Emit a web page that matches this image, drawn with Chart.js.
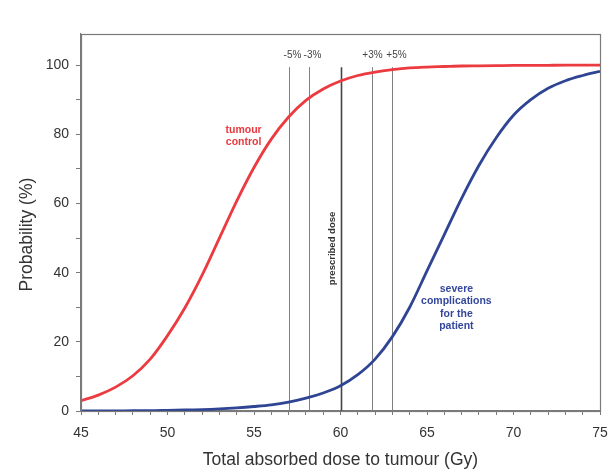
<!DOCTYPE html>
<html>
<head>
<meta charset="utf-8">
<script src="https://cdn.jsdelivr.net/npm/chart.js@4"></script>
<style>
html,body{margin:0;padding:0;background:#fff;}
#wrap{width:612px;height:469px;position:relative;}
</style>
</head>
<body>
<div id="wrap"><canvas id="c" width="612" height="469"></canvas></div>
<script>
// Dose axis (Gy)
const doses = [45,46,47,48,49,50,51,52,53,54,55,56,57,58,59,60,61,62,63,64,65,66,67,68,69,70,71,72,73,74,75];
// Probability of tumour control (%)
const tumourControl = [3.0,4.6,6.9,10.2,15.0,21.8,29.8,39.3,50,60.7,70.4,78.6,85.0,89.8,93.1,95.4,97.0,98.0,98.7,99.2,99.45,99.6,99.75,99.8,99.85,99.9,99.9,99.95,100,100,100];
// Probability of severe complications (%)
const complications = [0,0,0,0.1,0.1,0.2,0.3,0.4,0.6,0.9,1.3,1.8,2.6,3.7,5.2,7.3,10.5,15.0,21.5,30.0,40.5,51.0,61.5,71.0,79.0,85.5,90.0,93.3,95.5,97.0,98.2];
// Dose deviation markers
const markerDoses = [57, 58.2, 60, 61.8, 63];
const markerLabels = ['-5%', '-3%', '', '+3%', '+5%'];
const xTicks = [45,50,55,60,65,70,75];
const yTicks = [0,20,40,60,80,100];
const xTitle = 'Total absorbed dose to tumour (Gy)';
const yTitle = 'Probability (%)';

const FONT = '"Liberation Sans", Arial, sans-serif';
const labelShift = [3, 3, 0, 0, 4];

const overlay = {
  id: 'overlay',
  beforeDatasetsDraw(chart) {
    const ctx = chart.ctx, xs = chart.scales.x, ys = chart.scales.y;
    const yTop = ys.getPixelForValue(100) + 2, yBot = ys.getPixelForValue(0);
    ctx.save();
    markerDoses.forEach((d, i) => {
      const px = Math.round(xs.getPixelForValue(d)) + 0.5;
      const main = markerLabels[i] === '';
      ctx.strokeStyle = main ? '#444' : '#808080';
      ctx.lineWidth = main ? 1.6 : 1;
      ctx.beginPath();
      ctx.moveTo(px, yTop);
      ctx.lineTo(px, yBot);
      ctx.stroke();
      if (!main) {
        ctx.fillStyle = '#444';
        ctx.font = '10px ' + FONT;
        ctx.textAlign = 'center';
        ctx.textBaseline = 'middle';
        ctx.fillText(markerLabels[i], px + labelShift[i], yTop - 12);
      }
    });
    // prescribed dose label
    const pp = xs.getPixelForValue(60);
    ctx.save();
    ctx.translate(pp - 8, ys.getPixelForValue(47));
    ctx.rotate(-Math.PI / 2);
    ctx.fillStyle = '#333';
    ctx.font = 'bold 9.5px ' + FONT;
    ctx.textAlign = 'center';
    ctx.textBaseline = 'middle';
    ctx.fillText('prescribed dose', 0, 0);
    ctx.restore();
    ctx.restore();
  },
  afterDraw(chart) {
    const ctx = chart.ctx, a = chart.chartArea, xs = chart.scales.x, ys = chart.scales.y;
    ctx.save();
    ctx.strokeStyle = '#7a7a7a';
    ctx.lineWidth = 1.2;
    ctx.strokeRect(Math.round(a.left) + 0.5, Math.round(a.top) + 0.5, Math.round(a.right - a.left), Math.round(a.bottom - a.top));
    ctx.textAlign = 'center';
    ctx.textBaseline = 'middle';
    ctx.font = 'bold 10.5px ' + FONT;
    ctx.fillStyle = '#e8393f';
    const tx = xs.getPixelForValue(54.4);
    ctx.fillText('tumour', tx, ys.getPixelForValue(81.1));
    ctx.fillText('control', tx, ys.getPixelForValue(77.6));
    ctx.fillStyle = '#34479a';
    const bx = xs.getPixelForValue(66.7);
    ['severe', 'complications', 'for the', 'patient'].forEach((t, i) => {
      ctx.fillText(t, bx, ys.getPixelForValue(35.2 - i * 3.55));
    });
    // axis titles
    ctx.fillStyle = '#333';
    ctx.font = '17.5px ' + FONT;
    ctx.fillText(xTitle, (a.left + a.right) / 2, 460);
    ctx.save();
    ctx.translate(27, ys.getPixelForValue(51));
    ctx.rotate(-Math.PI / 2);
    ctx.fillText(yTitle, 0, 0);
    ctx.restore();
    ctx.restore();
  }
};

new Chart(document.getElementById('c'), {
  type: 'line',
  data: {
    labels: doses,
    datasets: [
      { label: 'tumour control', data: doses.map((d, i) => ({x: d, y: tumourControl[i]})),
        borderColor: '#ec3b40', borderWidth: 2.8, pointRadius: 0, cubicInterpolationMode: 'monotone', fill: false },
      { label: 'severe complications', data: doses.map((d, i) => ({x: d, y: complications[i]})),
        borderColor: '#2f4593', borderWidth: 2.8, pointRadius: 0, cubicInterpolationMode: 'monotone', fill: false }
    ]
  },
  options: {
    responsive: false,
    animation: false,
    events: [],
    layout: { padding: { left: 0, right: 6, top: 34, bottom: 0 } },
    plugins: { legend: { display: false }, tooltip: { enabled: false } },
    scales: {
      x: {
        type: 'linear', min: 45, max: 75,
        afterBuildTicks(s) { const t = []; for (let v = 45; v <= 75; v++) t.push({value: v}); s.ticks = t; },
        afterFit(s) { s.height = 58; s.paddingRight = 12; },
        ticks: {
          autoSkip: false, maxRotation: 0, padding: 10,
          color: '#333', font: { family: FONT, size: 14 },
          callback: v => xTicks.includes(v) ? String(v) : ''
        },
        grid: { drawOnChartArea: false, drawTicks: true, tickLength: 4, tickColor: '#7a7a7a', lineWidth: 1 },
        border: { display: true, color: '#7a7a7a', width: 1.2 },
        title: { display: false }
      },
      y: {
        type: 'linear', min: 0, max: 109,
        afterBuildTicks(s) { const t = []; for (let v = 0; v <= 100; v += 10) t.push({value: v}); s.ticks = t; },
        afterFit(s) { s.width = 81; },
        ticks: {
          autoSkip: false, padding: 7,
          color: '#333', font: { family: FONT, size: 14 },
          callback: v => yTicks.includes(v) ? String(v) : ''
        },
        grid: { drawOnChartArea: false, drawTicks: true, tickLength: 5, tickColor: '#7a7a7a', lineWidth: 1 },
        border: { display: true, color: '#7a7a7a', width: 1.2 },
        title: { display: false }
      }
    }
  },
  plugins: [overlay]
});
</script>
</body>
</html>
